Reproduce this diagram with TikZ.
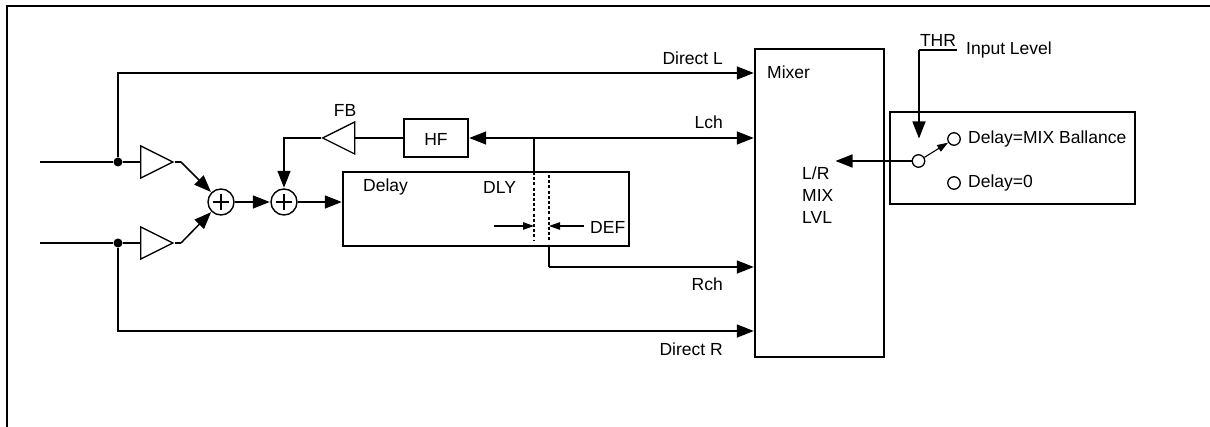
\documentclass[tikz,border=0pt]{standalone}
\usepackage{fontspec}
\setmainfont{Liberation Sans}
\usetikzlibrary{arrows.meta,shapes.geometric}
\tikzset{
    line/.style = {line width=1.5pt},
    arrow/.style = {line, -{Triangle[length=17pt,width=13pt]}, shorten >=0.5pt},
    tinyarrow/.style = {line width=1.1pt, -{Triangle[length=11pt,width=7.5pt]}},
    box/.style = {draw, line width=1.4pt, inner sep=0pt},
    amp/.style = {draw, line width=1.3pt, isosceles triangle, isosceles triangle stretches,
        minimum width=32pt, minimum height=32pt, inner sep=0pt},
    sumnode/.style = {draw, circle, line width=1.4pt, minimum size=26pt, inner sep=0pt,
        path picture={
            \draw[line width=1.3pt] ([xshift=-8pt]path picture bounding box.center) -- ([xshift=8pt]path picture bounding box.center);
            \draw[line width=1.3pt] ([yshift=-8pt]path picture bounding box.center) -- ([yshift=8pt]path picture bounding box.center);
        }},
    dot/.style = {circle, fill=black, minimum size=9pt, inner sep=0pt},
    contact/.style = {draw, circle, line width=1.3pt, fill=white, minimum size=12.5pt, inner sep=0pt},
    lab/.style = {inner sep=0pt, font=\fontsize{17.5}{21}\selectfont},
    tick/.style = {line width=1.6pt, dash pattern=on 3pt off 2.2pt}
}
\begin{document}
\begin{tikzpicture}[x=1pt,y=-1pt]
    \useasboundingbox (0,0) rectangle (1210,427);
    \draw[line width=2pt] (1210,6.5) -- (7,6.5) -- (7,427);

    % boxes
    \node[box, minimum width=286pt, minimum height=74pt] (delay) at (486,209) {};
    \node[box, minimum width=64pt, minimum height=38pt] (hf) at (436,138) {};
    \node[box, minimum width=129pt, minimum height=308pt] (mixer) at (819.5,203) {};
    \node[box, minimum width=245pt, minimum height=92pt] (level) at (1012.5,158) {};

    % inputs
    \coordinate (inl) at (40,162);
    \coordinate (inr) at (40,243);
    \node[dot] (jl) at (118,162) {};
    \node[dot] (jr) at (118,243) {};
    \node[amp, anchor=apex] (ampl) at (174.5,162) {};
    \node[amp, anchor=apex] (ampr) at (174.5,243) {};
    \node[sumnode] (suma) at (221,202) {};
    \node[sumnode] (sumb) at (284,202) {};
    \node[amp, anchor=apex, shape border rotate=180] (fb) at (321,138) {};

    \draw[line] (inl) -- (jl) -- (ampl.lower side);
    \draw[line] (inr) -- (jr) -- (ampr.lower side);
    \coordinate (outl) at (181,162);
    \coordinate (outr) at (181,243);
    \draw[line] (ampl.apex) -- (outl);
    \draw[line] (ampr.apex) -- (outr);
    \draw[arrow] (outl) -- (suma);
    \draw[arrow] (outr) -- (suma);
    \draw[arrow] (suma) -- (sumb);
    \draw[arrow] (sumb) -- (sumb -| delay.west);

    % direct paths
    \draw[arrow] (jl) |- (mixer.west |- 0,73);
    \draw[arrow] (jr) |- (mixer.west |- 0,331);

    % feedback
    \coordinate (tapl) at (534,138);
    \coordinate (tapr) at (549,267);
    \draw[arrow] (tapl) -- (mixer.west |- tapl);
    \draw[line] (tapl) -- (534,172);
    \draw[arrow] (tapl) -- (hf.east);
    \draw[line] (hf.west) -- (fb.lower side);
    \draw[arrow] (fb.apex) -| (sumb.north);
    \draw[arrow] (tapr) -- (mixer.west |- tapr);
    \draw[line] (549,246) -- (tapr);

    \draw[tick] (534,172) -- (534,241);
    \draw[tick] (549,175) -- (549,241);
    \coordinate (defl) at (494,226);
    \coordinate (defr) at (584,226);
    \draw[tinyarrow] (defl) -- (534,226);
    \draw[tinyarrow] (defr) -- (549,226);

    % switch
    \node[contact] (swc) at (918.5,161) {};
    \node[contact] (swa) at (954,139) {};
    \node[contact] (swb) at (954,183) {};
    \coordinate (thrl) at (919,50);
    \coordinate (thrr) at (957,50);
    \coordinate (thrt) at (919,139);
    \coordinate (lvl) at (835,161);
    \draw[line] (thrr) -- (thrl);
    \draw[arrow] (thrl) -- (thrt);
    \draw[arrow] (swc) -- (lvl);
    \draw[tinyarrow] (swc) -- (swa);

    % labels
    \node[lab, anchor=east] (ldirl) at (723,58) {Direct L};
    \node[lab, anchor=east] (llch) at (723,122) {Lch};
    \node[lab, anchor=east] (lrch) at (723,284) {Rch};
    \node[lab, anchor=east] (ldirr) at (723,349) {Direct R};
    \node[lab] (lfb) at (345,110) {FB};
    \node[lab] (lhf) at (436,139) {HF};
    \node[lab, anchor=west] (ldelay) at (363,187) {Delay};
    \node[lab, anchor=west] (ldly) at (483,187) {DLY};
    \node[lab, anchor=west] (ldef) at (590,227) {DEF};
    \node[lab, anchor=west] (lmixer) at (767,72) {Mixer};
    \node[lab, anchor=west] (llr) at (802,173) {L/R};
    \node[lab, anchor=west] (lmix) at (802,195) {MIX};
    \node[lab, anchor=west] (llvl) at (802,217) {LVL};
    \node[lab] (lthr) at (938,40) {THR};
    \node[lab, anchor=west] (linput) at (966,50) {Input Level};
    \node[lab, anchor=west] (lball) at (968,139) {Delay=MIX Ballance};
    \node[lab, anchor=west] (lzero) at (968,183) {Delay=0};
\end{tikzpicture}
\end{document}
